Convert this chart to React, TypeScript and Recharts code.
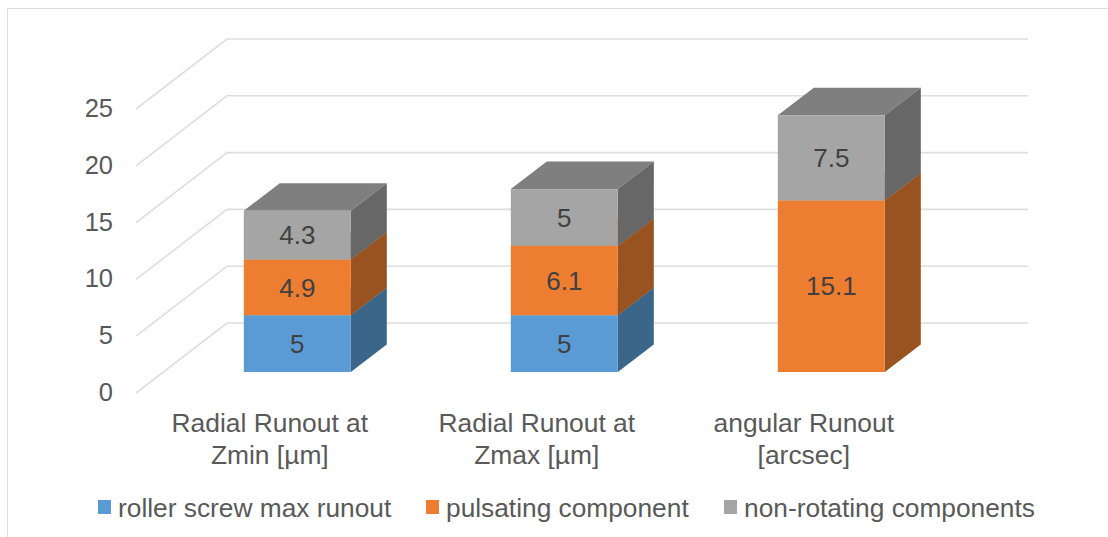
import React from "react";
import { BarChart, Bar, XAxis, YAxis, LabelList, Legend, CartesianGrid } from "recharts";

const categories = ["Radial Runout at\nZmin [µm]", "Radial Runout at\nZmax [µm]", "angular Runout\n[arcsec]"];
const rollerScrew = [5, 5, null];
const pulsating = [4.9, 6.1, 15.1];
const nonRotating = [4.3, 5, 7.5];
const yTicks = [0, 5, 10, 15, 20, 25];

const data = categories.map((category, i) => ({
  category,
  rollerScrew: rollerScrew[i],
  pulsating: pulsating[i],
  nonRotating: nonRotating[i],
}));

const FONT = '"Liberation Sans", Arial, sans-serif';
const TEXT = "#595959";
const GRID = "#dedede";
const DX = 36;
const DY = 27.5;

const makeBox = (side: string, top: string) => (props: any) => {
  const { x, y, width, height, fill } = props;
  if (!height || height <= 0) return <g />;
  return (
    <g>
      <polygon points={`${x},${y} ${x + width},${y} ${x + width + DX},${y - DY} ${x + DX},${y - DY}`} fill={top} />
      <polygon
        points={`${x + width},${y} ${x + width + DX},${y - DY} ${x + width + DX},${y + height - DY} ${x + width},${y + height}`}
        fill={side}
      />
      <rect x={x} y={y} width={width} height={height} fill={fill} />
    </g>
  );
};

const gridLine = (props: any) => {
  const y = props.y1;
  return (
    <polyline
      key={props.key ?? y}
      points={`136,${y + 21} 227,${y - 49} 1028,${y - 49}`}
      fill="none"
      stroke={GRID}
      strokeWidth={1.6}
    />
  );
};

const YTick = (props: any) => {
  const { y, payload } = props;
  return (
    <text x={113} y={y + 20} dy="0.35em" textAnchor="end" fontFamily={FONT} fontSize={25.5} fill={TEXT}>
      {payload.value}
    </text>
  );
};

const XTick = (props: any) => {
  const { x, payload } = props;
  const lines = String(payload.value).split("\n");
  return (
    <text textAnchor="middle" fontFamily={FONT} fontSize={26.4} fill={TEXT}>
      {lines.map((line: string, i: number) => (
        <tspan key={i} x={x - 27.5} y={432 + i * 31.5}>
          {line}
        </tspan>
      ))}
    </text>
  );
};

const legendLefts = [98, 426, 724];

const LegendContent = (props: any) => (
  <div style={{ position: "relative", height: 0 }}>
    {(props.payload || []).map((entry: any, i: number) => (
      <React.Fragment key={entry.value}>
        <div
          style={{
            position: "absolute",
            left: legendLefts[i],
            top: 500,
            width: 13,
            height: 14,
            background: entry.color,
          }}
        />
        <div
          style={{
            position: "absolute",
            left: legendLefts[i] + 20,
            top: 493,
            fontFamily: FONT,
            fontSize: 26.3,
            lineHeight: "30px",
            color: TEXT,
            whiteSpace: "nowrap",
          }}
        >
          {entry.value}
        </div>
      </React.Fragment>
    ))}
  </div>
);

const labelProps = { position: "center" as const, fontFamily: FONT, fontSize: 26, fill: "#404040" };

export default function App() {
  return (
    <div style={{ position: "absolute", left: 0, top: 0, width: 1108, height: 537, background: "#fff", overflow: "hidden" }}>
      <div style={{ position: "absolute", left: 7, top: 8, right: 0, bottom: 0, borderLeft: "1.5px solid #dcdcdc", borderTop: "1.5px solid #dcdcdc" }} />
      <BarChart
        width={1108}
        height={537}
        data={data}
        margin={{ top: 88, right: 143.2, bottom: 105, left: 63.8 }}
        barCategoryGap={0}
        style={{ position: "absolute", left: 0, top: 0 }}
      >
        <CartesianGrid vertical={false} horizontal={gridLine} />
        <YAxis
          type="number"
          domain={[0, 25]}
          ticks={yTicks}
          width={100}
          interval={0}
          axisLine={false}
          tickLine={false}
          tick={<YTick />}
        />
        <XAxis dataKey="category" height={60} axisLine={false} tickLine={false} interval={0} tick={<XTick />} />
        <Legend
          content={<LegendContent />}
          itemSorter={null}
          wrapperStyle={{ position: "absolute", left: 0, top: 0, width: 1108, height: 0 }}
        />
        <Bar
          dataKey="rollerScrew"
          name="roller screw max runout"
          stackId="a"
          fill="#5B9BD5"
          barSize={107}
          isAnimationActive={false}
          shape={makeBox("#3A6689", "#4A7FB0")}
        >
          <LabelList dataKey="rollerScrew" {...labelProps} />
        </Bar>
        <Bar
          dataKey="pulsating"
          name="pulsating component"
          stackId="a"
          fill="#ED7D31"
          barSize={107}
          isAnimationActive={false}
          shape={makeBox("#985321", "#BF6628")}
        >
          <LabelList dataKey="pulsating" {...labelProps} />
        </Bar>
        <Bar
          dataKey="nonRotating"
          name="non-rotating components"
          stackId="a"
          fill="#A5A5A5"
          barSize={107}
          isAnimationActive={false}
          shape={makeBox("#676767", "#7F7F7F")}
        >
          <LabelList dataKey="nonRotating" {...labelProps} />
        </Bar>
      </BarChart>
    </div>
  );
}
